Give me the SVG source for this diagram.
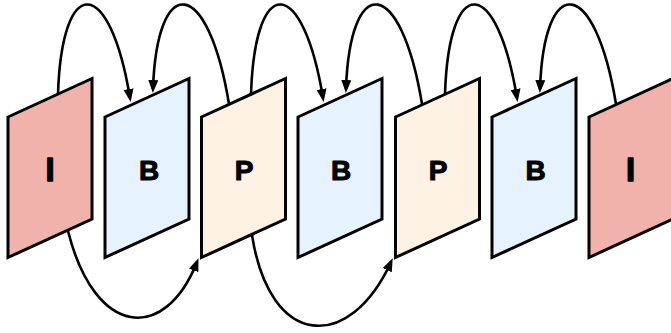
<svg xmlns="http://www.w3.org/2000/svg" width="671" height="333" viewBox="0 0 671 333">
<style>
.frame{stroke:#000;stroke-width:3;stroke-linejoin:miter}
.i{fill:#F2B2AC}
.b{fill:#E6F2FD}
.p{fill:#FDF2E4}
.lbl{font-family:"Liberation Sans",Arial,sans-serif;font-weight:bold;font-size:28px;text-anchor:middle;fill:#000;stroke:#000;stroke-width:1;stroke-linejoin:round}
.lblI{font-size:33px;stroke-width:1.3}
.arc{fill:none;stroke:#000;stroke-width:2.6;marker-end:url(#ah)}
</style>
<defs>
<marker id="ah" markerUnits="userSpaceOnUse" markerWidth="14" markerHeight="12" refX="9" refY="5" orient="auto">
<path d="M0,0 L13,5 L0,10 z" fill="#000"/>
</marker>
</defs>
<rect width="671" height="333" fill="#fff"/>
<g id="frame-I1"><polygon class="frame i" points="8,117 92,78.5 92,219 8,257.5"/><text class="lbl lblI" x="50" y="180.5">I</text></g>
<g id="frame-B2"><polygon class="frame b" points="105,117 189,78.5 189,219 105,257.5"/><text class="lbl" x="149" y="180">B</text></g>
<g id="frame-P3"><polygon class="frame p" points="201.5,117 285.5,78.5 285.5,219 201.5,257.5"/><text class="lbl" x="244" y="180">P</text></g>
<g id="frame-B4"><polygon class="frame b" points="298,117 382,78.5 382,219 298,257.5"/><text class="lbl" x="341" y="180">B</text></g>
<g id="frame-P5"><polygon class="frame p" points="395.5,117 479.5,78.5 479.5,219 395.5,257.5"/><text class="lbl" x="438" y="180">P</text></g>
<g id="frame-B6"><polygon class="frame b" points="492,117 576,78.5 576,219 492,257.5"/><text class="lbl" x="535.5" y="180">B</text></g>
<g id="frame-I7"><polygon class="frame i" points="589,117 673,78.5 673,219 589,257.5"/><text class="lbl lblI" x="630.5" y="180.5">I</text></g>
<g id="connectors">
<path class="arc" d="M58,94 C62,-28 110,-24 130,98"/>
<path class="arc" d="M229,104 C208,-24 157,-28 153,89"/>
<path class="arc" d="M251,94 C255,-28 303,-24 323,98"/>
<path class="arc" d="M422,104 C401,-24 350,-28 346,89"/>
<path class="arc" d="M445,94 C449,-28 497,-24 517,98"/>
<path class="arc" d="M616,104 C595,-24 544,-28 540,89"/>
<path class="arc" d="M68,231 C95,338 165,343 197,262"/>
<path class="arc" d="M252,235 C270,350 350,352 391,262"/>
</g>
</svg>
